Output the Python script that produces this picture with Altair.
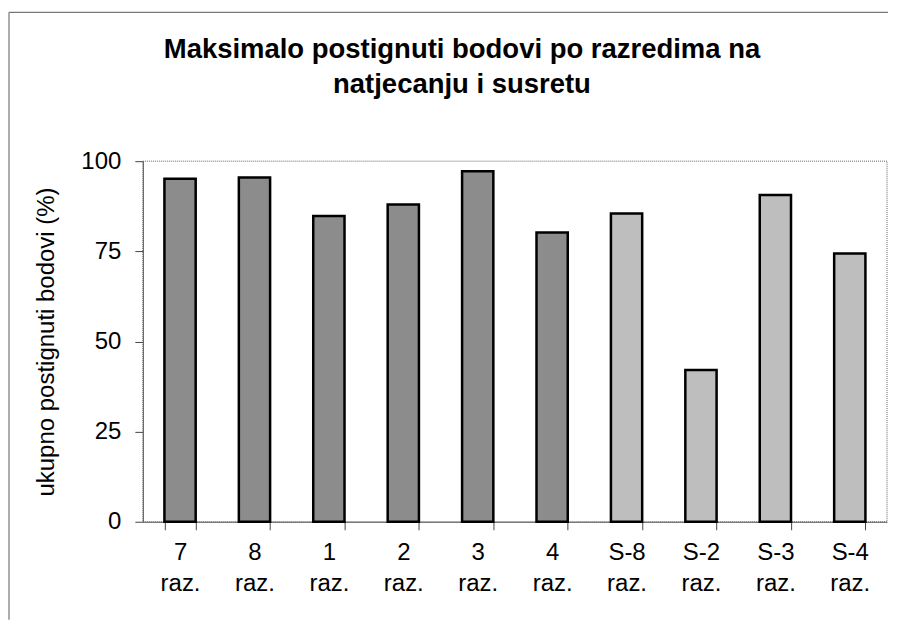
import altair as alt
import pandas as pd

categories = ["7 raz.", "8 raz.", "1 raz.", "2 raz.", "3 raz.", "4 raz.",
              "S-8 raz.", "S-2 raz.", "S-3 raz.", "S-4 raz."]
values = [95.1, 95.5, 84.8, 88.0, 97.2, 80.2, 85.5, 42.1, 90.6, 74.4]
groups = ["natjecanje"] * 6 + ["susret"] * 4

df = pd.DataFrame({"kat": categories, "val": values, "grupa": groups})

W, H = 745, 361
FONT = "Liberation Sans"

bars = alt.Chart(df).mark_bar(stroke="black", strokeWidth=2.5).encode(
    x=alt.X("kat:N", sort=categories,
            scale=alt.Scale(paddingInner=0.58, paddingOuter=0.29),
            axis=alt.Axis(title=None, labelAngle=0, tickBand="extent",
                          labelExpr="split(datum.label, ' ')",
                          labelFontSize=24, labelLineHeight=31,
                          labelPadding=11, labelColor="black",
                          labelFont=FONT,
                          tickSize=8, tickColor="#444", domainColor="#555",
                          labelBaseline="top")),
    y=alt.Y("val:Q", scale=alt.Scale(domain=[0, 100]),
            axis=alt.Axis(title="ukupno postignuti bodovi (%)", values=[0, 25, 50, 75, 100],
                          grid=False, tickSize=8, labelFontSize=24, labelPadding=14,
                          labelFont=FONT, labelColor="black",
                          titleFont=FONT, titleFontSize=24,
                          titleFontWeight="normal", titleColor="black", titlePadding=22,
                          tickColor="#444", domainColor="#555")),
    color=alt.Color("grupa:N", scale=alt.Scale(domain=["natjecanje", "susret"],
                                                range=["#8c8c8c", "#bebebe"]),
                    legend=None),
)

left_edge = alt.Chart(df).mark_rule(stroke="#777", strokeWidth=1.2, clip=False).encode(
    x=alt.value(-134), y=alt.value(-149), y2=alt.value(H + 98)
).transform_filter(alt.datum.kat == "7 raz.")

top_edge = alt.Chart(df).mark_rule(stroke="#777", strokeWidth=1.2, clip=False).encode(
    x=alt.value(-134), x2=alt.value(W + 1), y=alt.value(-149)
).transform_filter(alt.datum.kat == "7 raz.")

chart = alt.layer(left_edge, top_edge, bars).properties(
    width=W, height=H,
    padding={"left": 0, "top": 3, "right": 0, "bottom": 0},
    title=alt.TitleParams(
        ["Maksimalo postignuti bodovi po razredima na", "natjecanju i susretu"],
        font=FONT, fontSize=27.5, fontWeight="bold", color="black",
        anchor="middle", frame="group", dx=-53, baseline="alphabetic",
        lineHeight=35, offset=-109),
).configure_view(stroke="#999", strokeWidth=1.5, strokeDash=[1, 1])

chart.save("out.html", embed_options={"renderer": "svg", "actions": False})
